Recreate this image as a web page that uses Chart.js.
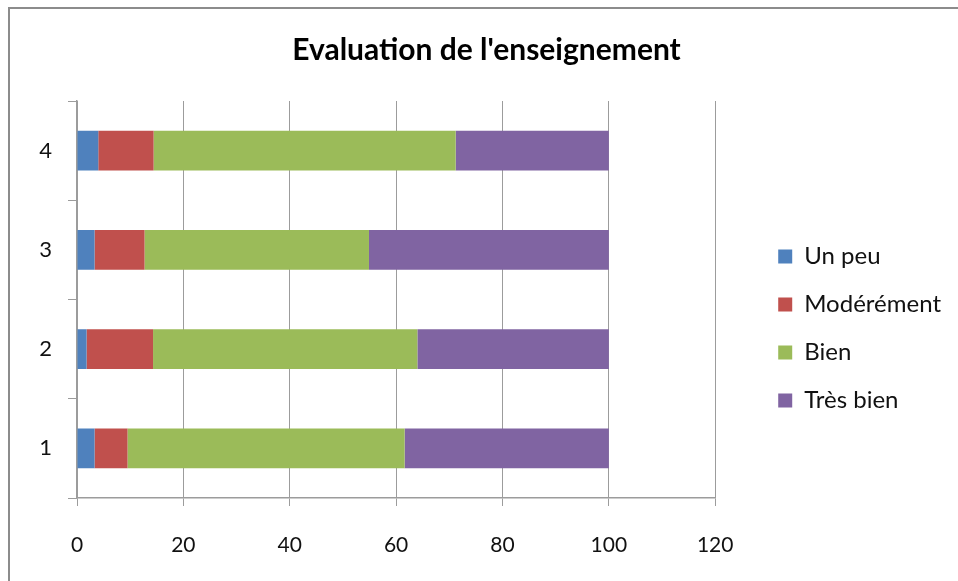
<!DOCTYPE html>
<html lang="fr">
<head>
  <meta charset="UTF-8">
  <title>Evaluation de l'enseignement</title>
  <script src="https://cdn.jsdelivr.net/npm/chart.js"></script>
  <style>
    body {
      margin: 0;
      background: #fff;
      overflow: hidden;
    }
    .frame {
      position: absolute;
      left: 8px;
      top: 7px;
      width: 1000px;
      height: 700px;
      border: 2px solid #8c8c8c;
    }
    canvas {
      position: absolute;
      left: 0;
      top: 0;
    }
  </style>
</head>
<body>
  <div class="frame"></div>
  <canvas id="evalChart" width="958" height="581"></canvas>

  <script>
    // groupes (axe vertical, 1 en bas)
    const groups = ['1', '2', '3', '4'];

    // pourcentages par niveau
    const unPeu      = [3.3, 1.8, 3.3, 4.0];
    const moderement = [6.2, 12.5, 9.4, 10.4];
    const bien       = [52.1, 49.7, 42.2, 56.8];
    const tresBien   = [38.4, 36.0, 45.1, 28.8];

    const xTicks = [0, 20, 40, 60, 80, 100, 120];

    const FONT = 'Lato, "Open Sans", sans-serif';
    const gridGrey = '#9c9c9c';
    const LEGEND_GAP = 39; // blank space between plot and legend

    // widen the legend box on its left side so the plot ends earlier
    const legendGap = {
      id: 'legendGap',
      afterInit(chart) {
        const lg = chart.legend;
        const fit = lg.fit;
        lg.fit = function () {
          fit.call(this);
          this.width += LEGEND_GAP;
        };
      },
      afterLayout(chart) {
        chart.legend.left += LEGEND_GAP;
      }
    };

    const ctx = document.getElementById('evalChart').getContext('2d');

    new Chart(ctx, {
      type: 'bar',
      data: {
        labels: groups,
        datasets: [
          { label: 'Un peu', data: unPeu, backgroundColor: '#4f81bd' },
          { label: 'Modérément', data: moderement, backgroundColor: '#c0504d' },
          { label: 'Bien', data: bien, backgroundColor: '#9bbb59' },
          { label: 'Très bien', data: tresBien, backgroundColor: '#8064a2' }
        ]
      },
      plugins: [legendGap],
      options: {
        indexAxis: 'y',
        responsive: false,
        animation: false,
        devicePixelRatio: 1,
        datasets: {
          bar: {
            categoryPercentage: 1,
            barPercentage: 0.4,
            borderWidth: 0
          }
        },
        layout: {
          padding: { left: 22, right: 7, top: 20, bottom: 0 }
        },
        plugins: {
          title: {
            display: true,
            text: "Evaluation de l'enseignement",
            color: '#000',
            font: { family: FONT, size: 30, weight: 'bold' },
            padding: { top: 12, bottom: 33 }
          },
          legend: {
            position: 'right',
            title: {
              display: true,
              text: ' ',
              font: { size: 10 },
              padding: { top: 44, bottom: 0 }
            },
            labels: {
              color: '#111',
              font: { family: FONT, size: 24 },
              boxWidth: 14,
              boxHeight: 14,
              padding: 24
            }
          },
          tooltip: { enabled: false }
        },
        scales: {
          x: {
            stacked: true,
            min: 0,
            max: 120,
            afterBuildTicks: axis => {
              axis.ticks = xTicks.map(v => ({ value: v }));
            },
            grid: {
              color: gridGrey,
              lineWidth: 1,
              tickLength: 8,
              drawOnChartArea: true
            },
            border: { color: gridGrey, width: 1.5 },
            ticks: {
              color: '#111',
              font: { family: FONT, size: 21 },
              padding: 27,
              maxRotation: 0
            },
            afterFit: scale => { scale.height = 83; }
          },
          y: {
            stacked: true,
            reverse: true,
            grid: {
              color: gridGrey,
              drawOnChartArea: false,
              tickLength: 9
            },
            border: { color: gridGrey, width: 1.5 },
            ticks: {
              color: '#111',
              font: { family: FONT, size: 22 },
              padding: 16
            },
            afterFit: scale => { scale.width = 55; }
          }
        }
      }
    });
  </script>
</body>
</html>
